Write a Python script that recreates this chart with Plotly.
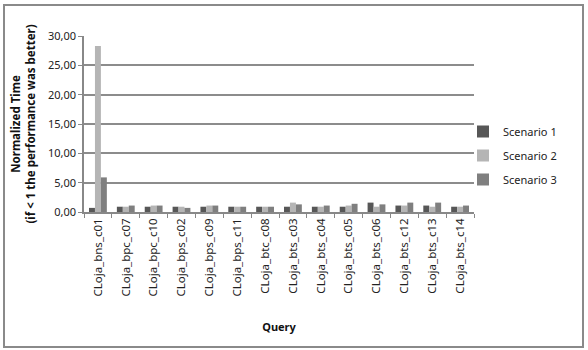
import plotly.graph_objects as go

queries = ["CLoja_bns_c01", "CLoja_bpc_c07", "CLoja_bpc_c10", "CLoja_bps_c02", "CLoja_bps_c09",
           "CLoja_bps_c11", "CLoja_btc_c08", "CLoja_bts_c03", "CLoja_bts_c04", "CLoja_bts_c05",
           "CLoja_bts_c06", "CLoja_bts_c12", "CLoja_bts_c13", "CLoja_bts_c14"]
scenario1 = [0.7, 0.9, 0.9, 0.9, 0.9, 0.9, 0.9, 0.9, 0.9, 0.9, 1.6, 1.1, 1.1, 0.9]
scenario2 = [28.3, 0.9, 1.1, 0.9, 1.1, 0.9, 0.9, 1.6, 0.9, 1.1, 0.9, 1.1, 0.9, 0.9]
scenario3 = [5.9, 1.1, 1.1, 0.7, 1.1, 0.9, 0.9, 1.3, 1.1, 1.4, 1.3, 1.6, 1.6, 1.1]
series_names = ["Scenario 1", "Scenario 2", "Scenario 3"]
colors = ["#575757", "#b5b5b5", "#7f7f7f"]

font = "Noto Sans"
fig = go.Figure()
for i, (name, vals, c) in enumerate(zip(series_names, [scenario1, scenario2, scenario3], colors)):
    fig.add_trace(go.Bar(x=queries, y=vals, name=name, legendgroup=f"g{i}",
                         marker=dict(color=c, line=dict(width=0))))

W, H = 588, 350
L, R, T, B = 84, 114, 36, 138
pw, ph = W - L - R, H - T - B

def px(x):
    return (x - L) / pw

def py(y):
    return (H - B - y) / ph

fig.update_layout(
    width=W, height=H,
    margin=dict(l=L, r=R, t=T, b=B, pad=0),
    paper_bgcolor="white", plot_bgcolor="white",
    barmode="group", bargap=0.36, bargroupgap=0,
    separators=",.",
    font=dict(family=font, size=10, color="#222"),
    showlegend=True,
    legend=dict(x=px(463), y=py(117), xanchor="left", yanchor="top",
                font=dict(family=font, size=11, color="#222"),
                itemwidth=30, tracegroupgap=5, bgcolor="rgba(0,0,0,0)"),
    xaxis=dict(type="category", tickangle=-90, tickson="boundaries", ticks="outside",
               ticklen=4, tickcolor="#888", showline=True, linecolor="#888", linewidth=1.5,
               showgrid=False, tickfont=dict(family=font, size=11.5, color="#222"),
               title=dict(text="<b>Query</b>", font=dict(family=font, size=11, color="#111"), standoff=28)),
    yaxis=dict(range=[0, 30], dtick=5, tickformat=".2f", showgrid=True, gridcolor="#8c8c8c",
               gridwidth=1.5, showline=True, linecolor="#888", linewidth=1.5, ticks="outside",
               ticklen=4, tickcolor="#888", zeroline=False,
               tickfont=dict(family=font, size=11, color="#222"),
               title=dict(text="<b>Normalized Time<br>(if < 1 the performance was better)</b>",
                          font=dict(family=font, size=11.5, color="#111"), standoff=10)),
)
fig.add_shape(type="rect", xref="paper", yref="paper",
              x0=px(4), x1=px(583), y0=py(347), y1=py(5),
              line=dict(color="#8a8a8a", width=2), fillcolor="rgba(0,0,0,0)", layer="below")
fig.write_html("out.html")
